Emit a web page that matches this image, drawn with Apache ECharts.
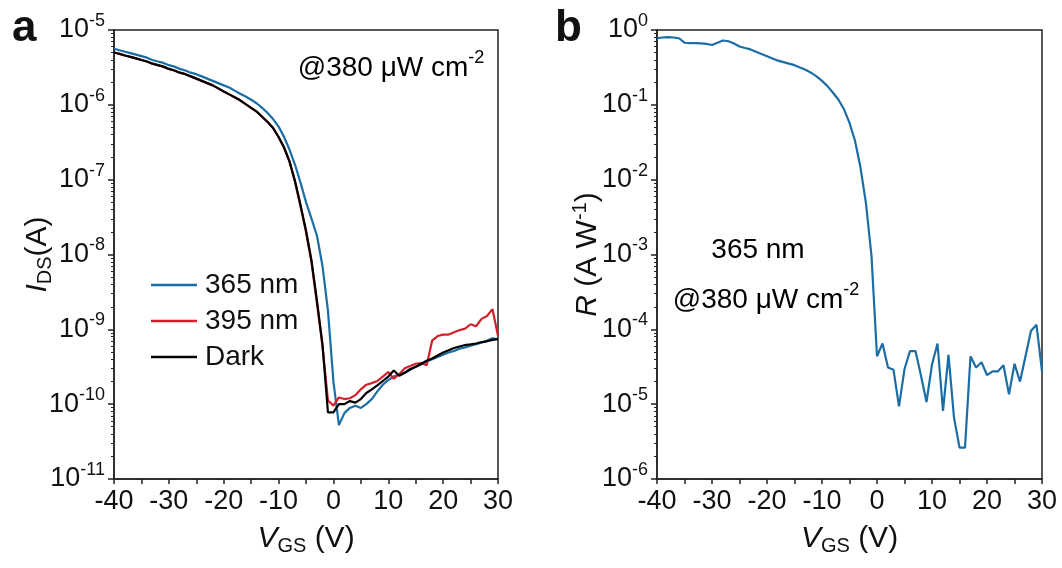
<!DOCTYPE html>
<html>
<head>
<meta charset="utf-8">
<script src="https://cdn.jsdelivr.net/npm/echarts@6/dist/echarts.min.js"></script>
<style>
html, body { margin: 0; padding: 0; background: #fff; }
#chart { width: 1062px; height: 568px; }
</style>
</head>
<body>
<div id="chart"></div>
<script>
// Gate voltage sweep (V)
const vgs = [-40,-39,-38,-37,-36,-35,-34,-33,-32,-31,-30,-29,-28,-27,-26,-25,-24,-23,-22,-21,
  -20,-19,-18,-17,-16,-15,-14,-13,-12,-11,-10,-9,-8,-7,-6,-5,-4,-3,-2,-1,
  0,1,2,3,4,5,6,7,8,9,10,11,12,13,14,15,16,17,18,19,20,21,22,23,24,25,26,27,28,29,30];

// Transfer curves, I_DS (A)
const ids365 = [5.62e-6,5.37e-6,5.13e-6,4.90e-6,4.68e-6,4.47e-6,4.27e-6,3.98e-6,3.80e-6,3.63e-6,
  3.39e-6,3.24e-6,3.02e-6,2.88e-6,2.69e-6,2.57e-6,2.40e-6,2.24e-6,2.09e-6,1.95e-6,
  1.82e-6,1.70e-6,1.55e-6,1.41e-6,1.29e-6,1.17e-6,1.05e-6,9.12e-7,7.76e-7,6.46e-7,
  5.13e-7,3.72e-7,2.51e-7,1.58e-7,9.12e-8,5.01e-8,3.02e-8,1.78e-8,7.08e-9,1.78e-9,
  2.00e-10,5.25e-11,7.59e-11,8.91e-11,9.55e-11,8.91e-11,1.00e-10,1.17e-10,1.48e-10,1.82e-10,
  2.09e-10,2.34e-10,2.51e-10,2.63e-10,2.88e-10,3.16e-10,3.39e-10,3.72e-10,3.98e-10,4.27e-10,
  4.57e-10,4.90e-10,5.13e-10,5.50e-10,5.75e-10,6.03e-10,6.31e-10,6.61e-10,7.08e-10,7.59e-10,7.41e-10];

const ids395 = [5.01e-6,4.79e-6,4.57e-6,4.37e-6,4.17e-6,3.98e-6,3.80e-6,3.55e-6,3.39e-6,3.24e-6,
  3.02e-6,2.88e-6,2.69e-6,2.57e-6,2.40e-6,2.24e-6,2.09e-6,1.95e-6,1.82e-6,1.66e-6,
  1.51e-6,1.38e-6,1.26e-6,1.15e-6,1.02e-6,9.12e-7,8.13e-7,6.92e-7,5.89e-7,4.90e-7,
  3.72e-7,2.69e-7,1.74e-7,9.30e-8,4.40e-8,2.00e-8,7.90e-9,2.20e-9,6.00e-10,1.12e-10,
  9.55e-11,1.23e-10,1.17e-10,1.20e-10,1.32e-10,1.58e-10,1.82e-10,1.91e-10,2.04e-10,2.34e-10,
  2.69e-10,2.19e-10,2.51e-10,3.02e-10,3.24e-10,3.47e-10,3.55e-10,3.31e-10,7.08e-10,8.13e-10,
  8.51e-10,8.51e-10,9.12e-10,9.77e-10,1.02e-9,1.17e-9,1.10e-9,1.38e-9,1.51e-9,1.86e-9,8.13e-10];

const idsDark = [5.01e-6,4.79e-6,4.57e-6,4.37e-6,4.17e-6,3.98e-6,3.80e-6,3.55e-6,3.39e-6,3.24e-6,
  3.02e-6,2.88e-6,2.69e-6,2.57e-6,2.40e-6,2.24e-6,2.09e-6,1.95e-6,1.82e-6,1.66e-6,
  1.51e-6,1.38e-6,1.26e-6,1.15e-6,1.02e-6,9.12e-7,8.13e-7,6.92e-7,5.89e-7,4.90e-7,
  3.72e-7,2.69e-7,1.74e-7,9.55e-8,4.57e-8,2.09e-8,8.32e-9,2.40e-9,6.31e-10,7.76e-11,
  7.76e-11,1.00e-10,1.00e-10,1.10e-10,1.05e-10,1.17e-10,1.41e-10,1.58e-10,1.78e-10,2.04e-10,
  2.34e-10,2.82e-10,2.40e-10,2.63e-10,2.95e-10,3.16e-10,3.47e-10,3.80e-10,4.07e-10,4.47e-10,
  4.90e-10,5.25e-10,5.62e-10,5.89e-10,6.17e-10,6.31e-10,6.46e-10,6.76e-10,6.92e-10,7.24e-10,7.41e-10];

// Responsivity at 365 nm, R (A W^-1)
const resp365 = [0.776,0.794,0.804,0.794,0.776,0.676,0.668,0.668,0.661,0.653,
  0.631,0.676,0.724,0.708,0.661,0.603,0.575,0.550,0.513,0.479,
  0.447,0.417,0.389,0.372,0.355,0.339,0.316,0.295,0.269,0.240,
  0.209,0.178,0.145,0.117,0.0871,0.0575,0.0331,0.0145,0.00479,0.000955,
  4.37e-5,6.46e-5,3.09e-5,2.88e-5,9.33e-6,2.95e-5,5.13e-5,5.13e-5,2.40e-5,1.07e-5,
  3.39e-5,6.46e-5,8.13e-6,4.57e-5,6.61e-6,2.63e-6,2.63e-6,4.37e-5,3.09e-5,3.63e-5,
  2.45e-5,2.75e-5,2.75e-5,3.31e-5,1.35e-5,3.47e-5,2.00e-5,4.37e-5,9.55e-5,1.15e-4,2.75e-5];

// Axis ticks
const xTicks = [-40,-30,-20,-10,0,10,20,30];
const idsDecades = [1e-11,1e-10,1e-9,1e-8,1e-7,1e-6,1e-5];
const respDecades = [1e-6,1e-5,1e-4,1e-3,1e-2,1e-1,1];
const minorMantissas = [2,3,4,5,6,7,8,9];

const FONT = '"Liberation Sans", Arial, Helvetica, sans-serif';
const INK = '#111';
const AXIS = '#222';
const C365 = '#1b6ea5';
const C395 = '#d3202a';
const CDARK = '#000000';

function minorTicksOf(decades) {
  const out = [];
  decades.slice(0, -1).forEach(d => minorMantissas.forEach(m => out.push(m * d)));
  return out;
}

function pairs(ys) { return vgs.map((v, i) => [v, ys[i]]); }

const supRich = {
  b: { fontSize: 27, fontFamily: FONT, color: INK, lineHeight: 40 },
  s: { fontSize: 18, fontFamily: FONT, color: INK, lineHeight: 18, padding: [0, 0, 18, 0] }
};

function powLabel(v) {
  const e = Math.round(Math.log10(v));
  return '{b|10}{s|' + e + '}';
}

const titleRich = {
  i: { fontSize: 30, fontFamily: FONT, fontStyle: 'italic', color: INK, lineHeight: 40 },
  n: { fontSize: 30, fontFamily: FONT, color: INK, lineHeight: 40 },
  sub: { fontSize: 20, fontFamily: FONT, color: INK, lineHeight: 20, padding: [14, 0, 0, 0] },
  sup: { fontSize: 20, fontFamily: FONT, color: INK, lineHeight: 20, padding: [0, 0, 16, 0] }
};

const noteRich = {
  a: { fontSize: 28, fontFamily: FONT, color: INK, lineHeight: 40 },
  s: { fontSize: 18, fontFamily: FONT, color: INK, lineHeight: 18, padding: [0, 0, 20, 0] }
};

function xAxisFor(gridIndex) {
  return {
    type: 'value', gridIndex, min: -40, max: 30, interval: 5,
    axisLine: { show: true, onZero: false, lineStyle: { color: AXIS, width: 1.5 } },
    axisTick: { show: true, length: 5, lineStyle: { color: AXIS, width: 1.5 } },
    axisLabel: { customValues: xTicks, fontSize: 27, fontFamily: FONT, color: INK, margin: 9 },
    splitLine: { show: false },
    name: '{i|V}{sub|GS}{n| (V)}', nameLocation: 'middle', nameGap: 40, nameMoveOverlap: false,
    nameTextStyle: { rich: titleRich }
  };
}

function yMajor(gridIndex, decades, name, nameGap) {
  return {
    type: 'log', logBase: 10, gridIndex, position: 'left',
    min: decades[0], max: decades[decades.length - 1],
    axisLine: { show: true, onZero: false, lineStyle: { color: AXIS, width: 1.5 } },
    axisTick: { show: true, length: 6, customValues: decades, lineStyle: { color: AXIS, width: 1.5 } },
    axisLabel: { customValues: decades, formatter: powLabel, rich: supRich, margin: 9 },
    splitLine: { show: false },
    name, nameLocation: 'middle', nameRotate: 90, nameGap, nameMoveOverlap: false,
    nameTextStyle: { rich: titleRich }
  };
}

function yMinor(gridIndex, decades) {
  return {
    type: 'log', logBase: 10, gridIndex, position: 'left', offset: 0,
    min: decades[0], max: decades[decades.length - 1],
    axisLine: { show: false, onZero: false },
    axisTick: { show: true, length: 3, customValues: minorTicksOf(decades), lineStyle: { color: AXIS, width: 1 } },
    axisLabel: { show: false },
    splitLine: { show: false }
  };
}

function line(name, data, color, xi, yi, z) {
  return {
    name, type: 'line', xAxisIndex: xi, yAxisIndex: yi, data: pairs(data),
    symbol: 'none', smooth: false, z,
    lineStyle: { color, width: 2.2 }, itemStyle: { color },
    emphasis: { disabled: true }
  };
}

const chart = echarts.init(document.getElementById('chart'), null, { renderer: 'canvas' });

chart.setOption({
  animation: false,
  backgroundColor: '#fff',
  grid: [
    { left: 114, top: 30, width: 384, height: 449, show: true, borderColor: AXIS, borderWidth: 1.5, backgroundColor: 'transparent' },
    { left: 657, top: 30, width: 385, height: 449, show: true, borderColor: AXIS, borderWidth: 1.5, backgroundColor: 'transparent' }
  ],
  xAxis: [xAxisFor(0), xAxisFor(1)],
  yAxis: [
    yMajor(0, idsDecades, '{i|I}{sub|DS}{n|(A)}', 56),
    yMinor(0, idsDecades),
    yMajor(1, respDecades, '{i|R}{n| (A W}{sup|-1}{n|)}', 49),
    yMinor(1, respDecades)
  ],
  legend: {
    orient: 'vertical', left: 146, top: 266,
    icon: 'rect', itemWidth: 46, itemHeight: 2.5, itemGap: 8,
    textStyle: { fontSize: 28, fontFamily: FONT, color: INK, padding: [0, 0, 0, 3] },
    data: ['365 nm', '395 nm', 'Dark']
  },
  series: [
    line('365 nm', ids365, C365, 0, 0, 2),
    line('395 nm', ids395, C395, 0, 0, 3),
    line('Dark', idsDark, CDARK, 0, 0, 4),
    line('R 365 nm', resp365, C365, 1, 2, 2)
  ],
  graphic: [
    { type: 'text', x: 12, y: 29, style: { text: 'a', font: 'bold 44px ' + FONT, fill: INK, align: 'left', verticalAlign: 'middle', textAlign: 'left', textVerticalAlign: 'middle' } },
    { type: 'text', x: 555, y: 29, style: { text: 'b', font: 'bold 44px ' + FONT, fill: INK, align: 'left', verticalAlign: 'middle', textAlign: 'left', textVerticalAlign: 'middle' } },
    { type: 'text', x: 391, y: 68, style: { text: '{a|@380 \u03bcW cm}{s|-2}', rich: noteRich, align: 'center', verticalAlign: 'middle', textAlign: 'center', textVerticalAlign: 'middle' } },
    { type: 'text', x: 758, y: 250, style: { text: '{a|365 nm}', rich: noteRich, align: 'center', verticalAlign: 'middle', textAlign: 'center', textVerticalAlign: 'middle' } },
    { type: 'text', x: 766, y: 300, style: { text: '{a|@380 \u03bcW cm}{s|-2}', rich: noteRich, align: 'center', verticalAlign: 'middle', textAlign: 'center', textVerticalAlign: 'middle' } }
  ]
});
</script>
</body>
</html>
